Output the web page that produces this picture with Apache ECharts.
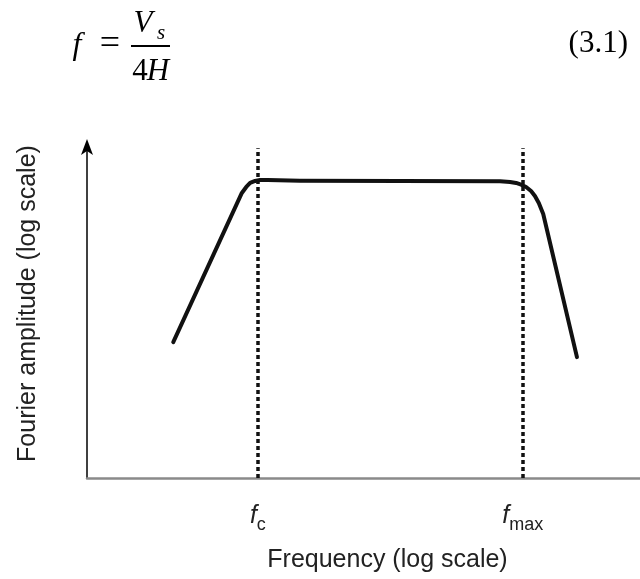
<!DOCTYPE html>
<html>
<head>
<meta charset="utf-8">
<script src="https://cdn.jsdelivr.net/npm/echarts@6/dist/echarts.min.js"></script>
<style>
  html, body { margin: 0; padding: 0; background: #fff; }
  #chart { width: 640px; height: 579px; }
</style>
</head>
<body>
<div id="chart"></div>
<script>
// log-frequency position (0..100) and log-amplitude (0..100)
const freq = [15.6, 28.0, 28.8, 29.5, 30.4, 31.3, 32.7, 38.5, 56.6, 74.7, 76.5, 77.6, 78.5, 79.4, 80.3, 81.0, 81.7, 82.5, 88.6];
const amp = [40.8, 85.6, 87.4, 88.6, 89.2, 89.5, 89.5, 89.3, 89.2, 89.1, 88.9, 88.6, 88.1, 87.4, 86.2, 84.7, 82.6, 79.3, 36.3];
// corner frequencies
const cornerValues = [30.9, 78.8];
const cornerNames = ['c', 'max'];

const textColor = '#222';
const sans = 'Liberation Sans, Arial, sans-serif';
const serif = 'Liberation Serif, Times New Roman, serif';

let myChart = echarts.init(document.getElementById('chart'));
myChart.setOption({
  animation: false,
  backgroundColor: '#fff',
  grid: { left: 87, right: 0, top: 145, bottom: 101 },
  xAxis: {
    type: 'value',
    min: 0,
    max: 100,
    name: 'Frequency (log scale)',
    nameLocation: 'middle',
    nameGap: 70,
    nameTextStyle: { color: textColor, fontSize: 25, fontFamily: sans, padding: [0, 0, 0, 48] },
    axisLine: { show: true, lineStyle: { color: '#8a8a8a', width: 2.5 } },
    axisTick: { show: false },
    splitLine: { show: false },
    axisLabel: {
      customValues: cornerValues,
      margin: 26,
      formatter: function (v) {
        const i = cornerValues.indexOf(v);
        return '{f|f}{s|' + cornerNames[i] + '}';
      },
      rich: {
        f: { fontStyle: 'italic', fontSize: 25, fontFamily: sans, color: textColor, lineHeight: 30, verticalAlign: 'top' },
        s: { fontSize: 18, fontFamily: sans, color: textColor, lineHeight: 30, verticalAlign: 'bottom' }
      }
    }
  },
  yAxis: {
    type: 'value',
    min: 0,
    max: 100,
    name: 'Fourier amplitude (log scale)',
    nameLocation: 'middle',
    nameGap: 46,
    nameTextStyle: { color: textColor, fontSize: 25, fontFamily: sans, padding: [0, 0, 0, 16] },
    axisLine: {
      show: true,
      symbol: ['none', 'arrow'],
      symbolSize: [9, 16],
      symbolOffset: [0, 6],
      lineStyle: { color: '#000', width: 1.5 }
    },
    axisTick: { show: false },
    axisLabel: { show: false },
    splitLine: { show: false }
  },
  series: [{
    type: 'line',
    data: freq.map(function (x, i) { return [x, amp[i]]; }),
    showSymbol: false,
    lineStyle: { color: '#111', width: 4, cap: 'round', join: 'round' },
    markLine: {
      silent: true,
      symbol: 'none',
      label: { show: false },
      emphasis: { disabled: true },
      lineStyle: { color: '#111', width: 3.5, type: [4, 3] },
      data: cornerValues.map(function (v) {
        return [{ coord: [v, 0] }, { coord: [v, 99] }];
      })
    }
  }],
  graphic: [
    { type: 'text', x: 77, y: 46, style: { text: 'f', font: 'italic 32px ' + serif, fill: '#000', textAlign: 'center', textVerticalAlign: 'middle' } },
    { type: 'text', x: 110, y: 45, style: { text: '=', font: '36px ' + serif, fill: '#000', textAlign: 'center', textVerticalAlign: 'middle' } },
    { type: 'text', x: 143, y: 24, style: { text: 'V', font: 'italic 31px ' + serif, fill: '#000', textAlign: 'center', textVerticalAlign: 'middle' } },
    { type: 'text', x: 161, y: 33, style: { text: 's', font: 'italic 21px ' + serif, fill: '#000', textAlign: 'center', textVerticalAlign: 'middle' } },
    { type: 'line', shape: { x1: 131, y1: 46, x2: 170, y2: 46 }, style: { stroke: '#000', lineWidth: 2 } },
    { type: 'text', x: 140, y: 72, style: { text: '4', font: '31px ' + serif, fill: '#000', textAlign: 'center', textVerticalAlign: 'middle' } },
    { type: 'text', x: 158, y: 72, style: { text: 'H', font: 'italic 31px ' + serif, fill: '#000', textAlign: 'center', textVerticalAlign: 'middle' } },
    { type: 'text', x: 628, y: 44, style: { text: '(3.1)', font: '31px ' + serif, fill: '#000', textAlign: 'right', textVerticalAlign: 'middle' } }
  ]
});
</script>
</body>
</html>
